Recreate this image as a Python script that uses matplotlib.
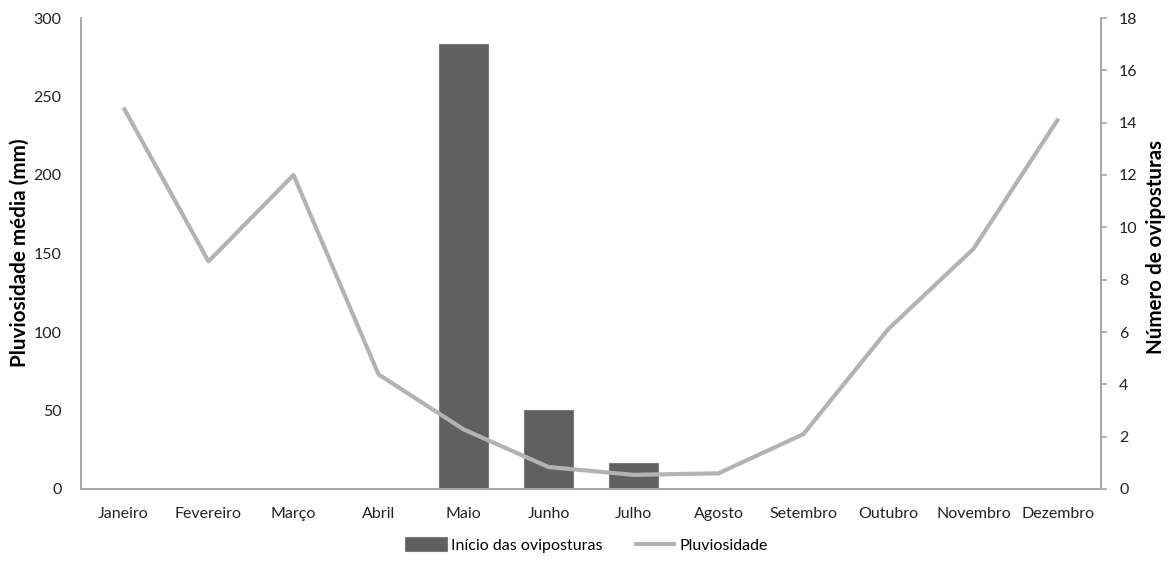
import matplotlib
matplotlib.use("Agg")
import matplotlib.pyplot as plt
import numpy as np

months = ["Janeiro", "Fevereiro", "Março", "Abril", "Maio", "Junho",
          "Julho", "Agosto", "Setembro", "Outubro", "Novembro", "Dezembro"]
pluviosidade = [243, 145, 200, 73, 38, 14, 9, 10, 35, 102, 153, 236]
oviposturas = [0, 0, 0, 0, 17, 3, 1, 0, 0, 0, 0, 0]

plt.rcParams['font.family'] = ['Lato', 'DejaVu Sans']

W, H = 1173, 563
fig = plt.figure(figsize=(W / 100, H / 100), dpi=100)
ax = fig.add_axes([81 / W, 1 - 489 / H, (1101 - 81) / W, (489 - 18) / H])
ax2 = ax.twinx()

x = np.arange(len(months))

# bars on the right axis, drawn beneath the rainfall line
ax2.bar(x, oviposturas, width=0.58, color="#606060", edgecolor="#7a7a7a",
        linewidth=0.8, label="Início das oviposturas")
ax.plot(x, pluviosidade, color="#b3b3b3", linewidth=3, solid_capstyle="butt",
        label="Pluviosidade")
ax.set_zorder(ax2.get_zorder() + 1)
ax.patch.set_visible(False)

ax.set_xlim(-0.5, len(months) - 0.5)
ax.set_ylim(0, 300)
ax2.set_ylim(0, 18)
ax.set_yticks(range(0, 301, 50))
ax2.set_yticks(range(0, 19, 2))
ax.set_xticks(x)
ax.set_xticklabels(months)

spine_col = "#a6a6a6"
for a in (ax, ax2):
    for s in a.spines.values():
        s.set_color(spine_col)
        s.set_linewidth(1.2)
    a.spines["top"].set_visible(False)

ax.tick_params(axis="y", length=0, pad=14, labelsize=11.5, colors="#222222")
ax.tick_params(axis="x", length=0, pad=13, labelsize=11.5, colors="#222222")
ax2.tick_params(axis="y", length=4, width=1.2, color=spine_col, pad=9,
                labelsize=11.5, labelcolor="#222222")

# axis titles placed in figure pixels, sized to a target length
renderer = fig.canvas.get_renderer()


def axis_title(text, xpix, ypix, length):
    t = fig.text(xpix / W, 1 - ypix / H, text, rotation=90, ha="center",
                 va="center", fontsize=12, fontweight="bold", color="#000000")
    ext = t.get_window_extent(renderer)
    t.set_fontsize(12 * length / ext.height)
    return t


axis_title("Pluviosidade média (mm)", 20, 253, 227)
axis_title("Número de oviposturas", 1156, 247, 213)

h1, l1 = ax2.get_legend_handles_labels()
h2, l2 = ax.get_legend_handles_labels()
fig.legend(h1 + h2, l1 + l2, loc="center", bbox_to_anchor=(0.5, 1 - 545 / H),
           ncol=2, frameon=False, fontsize=11.5, handlelength=2.6,
           handleheight=0.9, handletextpad=0.25, columnspacing=2.0)

fig.savefig("out.png", dpi=100)
